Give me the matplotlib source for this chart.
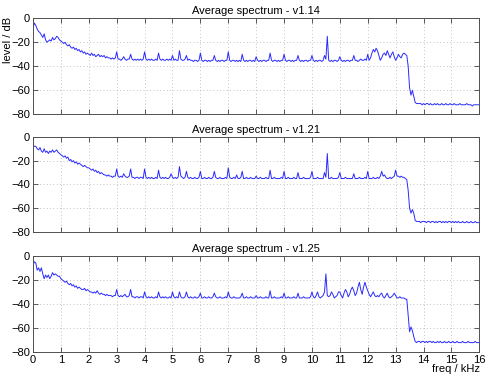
import numpy as np
import matplotlib
matplotlib.use("Agg")
import matplotlib.pyplot as plt

plt.rcParams["font.family"] = ["Liberation Sans", "DejaVu Sans"]

# frequency grid (kHz), one value every 0.05 kHz
freq = np.linspace(0, 16, 321)

# level / dB, one row per kHz
spec_v114 = [
    -8, -4, -6, -9, -11, -12, -14, -16, -13, -18, -20, -19, -18, -19, -16, -18, -17, -15, -16, -18,
    -19, -20, -21, -20, -22, -23, -22, -24, -25, -24, -26, -25, -27, -26, -28, -27, -29, -28, -30, -29,
    -30, -31, -29, -31, -30, -32, -31, -30, -32, -31, -32, -31, -33, -32, -33, -33, -34, -33, -34, -33,
    -28, -34, -34, -35, -34, -32, -34, -35, -34, -34, -30, -34, -35, -34, -35, -34, -35, -34, -35, -34,
    -28, -34, -35, -34, -35, -34, -35, -35, -34, -35, -29, -34, -35, -34, -35, -35, -34, -35, -34, -35,
    -31, -35, -34, -35, -35, -27, -34, -35, -35, -34, -31, -35, -34, -35, -35, -36, -35, -35, -36, -35,
    -29, -35, -36, -35, -35, -36, -35, -36, -35, -35, -31, -35, -36, -35, -36, -35, -35, -36, -35, -35,
    -28, -35, -36, -35, -35, -36, -35, -36, -35, -36, -30, -35, -36, -35, -36, -35, -35, -36, -35, -36,
    -32, -35, -36, -35, -36, -35, -35, -36, -35, -35, -29, -35, -36, -35, -35, -36, -35, -36, -35, -35,
    -30, -35, -36, -35, -35, -36, -35, -36, -35, -35, -31, -35, -36, -35, -36, -35, -35, -36, -35, -35,
    -31, -35, -36, -35, -36, -35, -35, -36, -35, -31, -34, -15, -35, -36, -35, -36, -35, -35, -36, -35,
    -32, -35, -36, -35, -36, -35, -35, -36, -35, -35, -31, -35, -35, -36, -35, -34, -35, -35, -34, -35,
    -30, -35, -33, -29, -26, -28, -25, -27, -31, -35, -33, -30, -29, -31, -27, -30, -33, -30, -28, -32,
    -35, -33, -30, -32, -33, -30, -29, -30, -31, -40, -58, -64, -60, -65, -70, -71, -71, -71, -71, -72,
    -71, -72, -71, -71, -72, -71, -72, -72, -71, -72, -71, -72, -72, -71, -72, -72, -71, -72, -72, -71,
    -72, -72, -71, -72, -72, -72, -71, -72, -72, -72, -72, -71, -72, -72, -72, -73, -72, -72, -72, -72,
    -72,
]

spec_v121 = [
    -7, -8, -8, -10, -11, -9, -12, -13, -10, -13, -12, -14, -12, -13, -11, -13, -12, -11, -13, -14,
    -15, -16, -17, -16, -18, -17, -20, -19, -21, -20, -22, -21, -23, -22, -23, -24, -25, -24, -25, -26,
    -26, -27, -28, -27, -29, -28, -30, -29, -31, -30, -31, -32, -32, -33, -32, -33, -33, -34, -33, -33,
    -27, -33, -34, -33, -34, -31, -33, -34, -34, -33, -27, -34, -34, -35, -34, -34, -35, -34, -34, -35,
    -27, -34, -35, -34, -35, -34, -35, -35, -34, -35, -28, -34, -35, -34, -35, -34, -35, -35, -34, -31,
    -34, -35, -34, -35, -34, -25, -33, -34, -35, -34, -29, -34, -35, -34, -35, -35, -34, -35, -35, -34,
    -29, -35, -35, -34, -35, -35, -34, -35, -35, -34, -29, -34, -35, -35, -34, -35, -35, -35, -34, -35,
    -26, -34, -35, -35, -34, -35, -32, -35, -35, -34, -29, -35, -35, -34, -35, -35, -34, -35, -35, -35,
    -33, -35, -35, -34, -35, -35, -35, -34, -35, -35, -28, -35, -35, -34, -35, -35, -35, -35, -34, -35,
    -29, -35, -35, -34, -35, -35, -35, -34, -35, -35, -30, -35, -35, -35, -34, -35, -35, -35, -35, -34,
    -29, -35, -35, -35, -34, -35, -35, -35, -35, -30, -34, -14, -35, -35, -34, -35, -35, -35, -35, -34,
    -30, -35, -35, -35, -34, -35, -35, -35, -35, -35, -31, -35, -35, -35, -34, -35, -35, -35, -34, -35,
    -29, -35, -35, -35, -34, -35, -35, -34, -35, -33, -29, -33, -32, -34, -35, -35, -34, -35, -34, -33,
    -28, -33, -33, -34, -33, -34, -34, -35, -36, -45, -60, -64, -61, -64, -70, -71, -71, -71, -72, -71,
    -71, -71, -72, -71, -71, -72, -71, -71, -72, -71, -72, -71, -71, -72, -71, -72, -71, -72, -71, -71,
    -72, -71, -72, -71, -72, -71, -72, -72, -71, -72, -72, -71, -72, -72, -71, -72, -72, -71, -72, -72,
    -72,
]

spec_v125 = [
    -8, -5, -6, -12, -10, -13, -10, -15, -19, -16, -18, -16, -19, -17, -14, -16, -15, -16, -17, -17,
    -19, -20, -21, -22, -21, -23, -24, -23, -25, -24, -26, -25, -27, -26, -27, -28, -28, -27, -29, -28,
    -29, -30, -30, -31, -30, -31, -29, -31, -32, -31, -32, -32, -33, -32, -33, -33, -33, -34, -33, -33,
    -28, -33, -34, -33, -34, -33, -32, -34, -34, -33, -28, -34, -34, -35, -34, -34, -35, -34, -34, -35,
    -30, -34, -35, -34, -35, -34, -35, -35, -34, -35, -30, -34, -35, -34, -35, -34, -35, -35, -34, -35,
    -30, -34, -35, -34, -35, -30, -34, -35, -35, -34, -30, -34, -35, -34, -35, -35, -34, -35, -35, -34,
    -31, -35, -35, -34, -35, -35, -34, -35, -35, -34, -31, -34, -35, -35, -34, -35, -35, -35, -34, -35,
    -30, -34, -35, -35, -34, -35, -35, -35, -35, -34, -31, -35, -35, -34, -35, -35, -34, -35, -35, -35,
    -33, -35, -35, -34, -35, -35, -35, -34, -35, -35, -29, -35, -35, -34, -35, -35, -35, -35, -34, -35,
    -31, -35, -35, -34, -35, -35, -35, -34, -35, -35, -31, -35, -35, -35, -34, -35, -35, -35, -35, -34,
    -30, -34, -35, -33, -30, -34, -35, -34, -33, -30, -15, -33, -34, -33, -30, -32, -35, -34, -33, -30,
    -30, -33, -35, -31, -28, -30, -34, -32, -28, -26, -29, -33, -31, -26, -22, -28, -32, -26, -22, -26,
    -29, -32, -34, -32, -30, -33, -34, -33, -34, -32, -31, -34, -35, -33, -31, -34, -35, -34, -33, -31,
    -33, -35, -35, -34, -35, -35, -35, -36, -36, -50, -63, -59, -62, -67, -71, -72, -71, -71, -72, -71,
    -71, -72, -71, -72, -71, -71, -72, -71, -72, -72, -71, -72, -71, -72, -72, -71, -72, -72, -71, -72,
    -72, -71, -72, -72, -71, -72, -72, -72, -71, -72, -72, -72, -71, -72, -72, -72, -72, -71, -72, -72,
    -72,
]

titles = ["Average spectrum - v1.14", "Average spectrum - v1.21", "Average spectrum - v1.25"]
spectra = [spec_v114, spec_v121, spec_v125]
xticks = list(range(0, 17))
yticks = [0, -20, -40, -60, -80]

fig = plt.figure(figsize=(4.89, 3.80), dpi=100)

boxes = [
    (0.0675, 0.699, 0.9127, 0.253),
    (0.0675, 0.389, 0.9127, 0.251),
    (0.0675, 0.073, 0.9127, 0.254),
]

for i, (box, spec, title) in enumerate(zip(boxes, spectra, titles)):
    ax = fig.add_axes(box)
    ax.plot(freq, spec, color="#2a2aff", linewidth=0.7)
    ax.set_xlim(0, 16)
    ax.set_ylim(-80, 0)
    ax.set_xticks(xticks)
    ax.set_yticks(yticks)
    ax.grid(True, linestyle=(0, (1, 3)), linewidth=0.6, color="#b0b0b0")
    ax.tick_params(direction="in", top=True, right=True, length=3.5,
                   width=0.6, color="#404040", labelsize=8, pad=2)
    for sp in ax.spines.values():
        sp.set_linewidth(0.7)
        sp.set_color("#505050")
    ax.set_title(title, fontsize=8, pad=3)
    if i < 2:
        ax.set_xticklabels([])

# y label placed in figure pixels as in the reference
fig.text(8 / 489, 1 - 40 / 380, "level / dB", rotation=90,
         ha="center", va="center", fontsize=8)
fig.text(0.982, 0.015, "freq / kHz", ha="right", va="bottom", fontsize=8)

fig.savefig("out.png", dpi=100)
